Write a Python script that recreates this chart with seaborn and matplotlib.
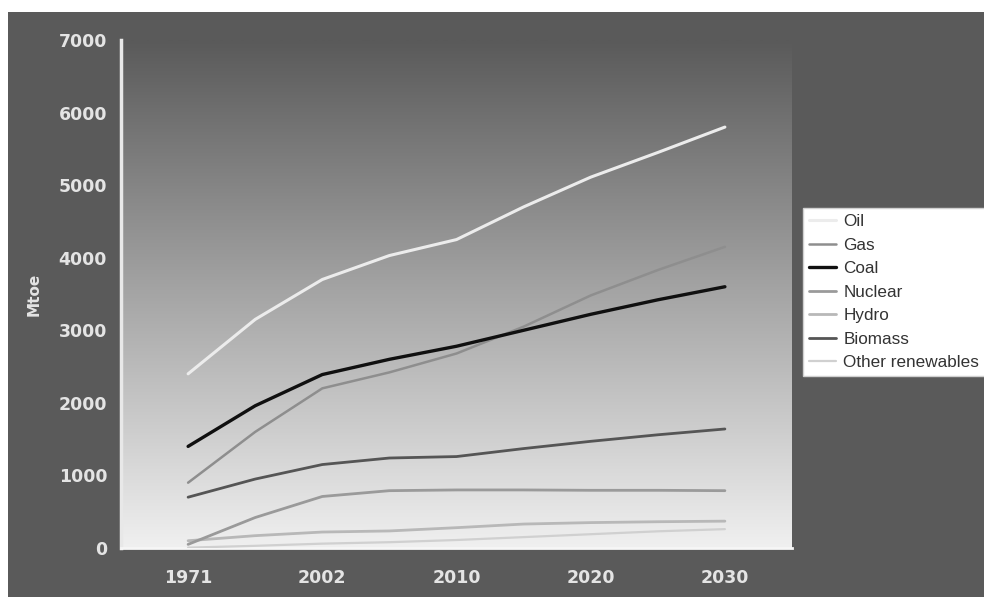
import numpy as np
import pandas as pd
import matplotlib
matplotlib.use("Agg")
import matplotlib.pyplot as plt
from matplotlib.patches import Rectangle
from matplotlib.lines import Line2D
import seaborn as sns

# Category labels on the x axis and the sampling positions along it
year_labels = ["1971", "2002", "2010", "2020", "2030"]
x_pos = [0.0, 0.5, 1.0, 1.5, 2.0, 2.5, 3.0, 3.5, 4.0]

# World primary energy demand by fuel (Mtoe)
oil = [2400, 3150, 3700, 4030, 4250, 4700, 5110, 5450, 5800]
gas = [900, 1600, 2200, 2420, 2680, 3050, 3480, 3830, 4150]
coal = [1400, 1960, 2390, 2600, 2780, 3000, 3220, 3420, 3600]
nuclear = [50, 420, 710, 790, 800, 800, 795, 795, 790]
hydro = [100, 170, 220, 235, 280, 330, 350, 362, 370]
biomass = [700, 950, 1150, 1240, 1260, 1370, 1470, 1560, 1640]
other_renew = [5, 30, 60, 80, 110, 150, 190, 230, 260]

fuels = ["Oil", "Gas", "Coal", "Nuclear", "Hydro", "Biomass", "Other renewables"]
series = [oil, gas, coal, nuclear, hydro, biomass, other_renew]
colors = {
    "Oil": "#ececec",
    "Gas": "#8e8e8e",
    "Coal": "#101010",
    "Nuclear": "#9a9a9a",
    "Hydro": "#b8b8b8",
    "Biomass": "#555555",
    "Other renewables": "#d0d0d0",
}
widths = {
    "Oil": 2.2, "Gas": 1.8, "Coal": 2.4, "Nuclear": 2.0,
    "Hydro": 2.0, "Biomass": 2.0, "Other renewables": 1.6,
}

df = pd.DataFrame(
    [(f, x, v) for f, vals in zip(fuels, series) for x, v in zip(x_pos, vals)],
    columns=["fuel", "pos", "Mtoe"],
)

sns.set_theme(style="white")
plt.rcParams["font.family"] = ["DejaVu Sans"]

W, H = 984, 597
fig = plt.figure(figsize=(W / 100, H / 100), dpi=100, facecolor="white")

# dark frame behind the chart
fig.patches.append(Rectangle((8 / W, 0), 1 - 8 / W, 1 - 12 / H,
                             transform=fig.transFigure, facecolor="#5a5a5a",
                             edgecolor="none", zorder=-10))

left, right = 121, 792
bottom, top = 548, 40
ax = fig.add_axes([left / W, 1 - bottom / H, (right - left) / W, (bottom - top) / H])
ax.set_facecolor("none")
ax.set_zorder(1)

# vertical grey gradient for the plotting area
grad = np.linspace(0, 1, 256).reshape(-1, 1)
cmap = matplotlib.colors.LinearSegmentedColormap.from_list("bg", ["#f0f0f0", "#5a5a5a"])
ax.imshow(grad, extent=[0, 1, 0, 1], transform=ax.transAxes, cmap=cmap,
          aspect="auto", origin="lower", zorder=0)

draw_order = ["Other renewables", "Hydro", "Biomass", "Nuclear", "Gas", "Oil", "Coal"]
for fuel in draw_order:
    sub = df[df["fuel"] == fuel]
    sns.lineplot(data=sub, x="pos", y="Mtoe", color=colors[fuel],
                 linewidth=widths[fuel], ax=ax, legend=False, zorder=3)

ax.set_xlim(-0.5, 4.5)
ax.set_ylim(0, 7000)
ax.set_xticks(range(len(year_labels)))
ax.set_xticklabels(year_labels)
ax.set_yticks(range(0, 7001, 1000))
ax.tick_params(axis="both", length=0, labelsize=12.5, labelcolor="#e4e4e4")
ax.tick_params(axis="y", pad=10)
ax.tick_params(axis="x", pad=15)
for lab in ax.get_xticklabels() + ax.get_yticklabels():
    lab.set_fontweight("bold")
ax.set_xlabel("")
ax.set_ylabel("Mtoe", fontsize=11, fontweight="bold", color="#e4e4e4", labelpad=12)

for s in ["top", "right"]:
    ax.spines[s].set_visible(False)
ax.spines["left"].set_color("#e8e8e8")
ax.spines["left"].set_linewidth(2.5)
ax.spines["bottom"].set_color("#f6f6f6")
ax.spines["bottom"].set_linewidth(2.0)

handles = [Line2D([0], [0], color=colors[f], lw=widths[f]) for f in fuels]
leg = fig.legend(handles, fuels, loc="upper left",
                 bbox_to_anchor=(803 / W, 1 - 208 / H), frameon=True,
                 fancybox=False, framealpha=1, facecolor="white", edgecolor="#d0d0d0",
                 prop={"family": "Liberation Sans", "size": 12.3},
                 labelcolor="#333333", handlelength=1.6, handletextpad=0.4,
                 labelspacing=0.5, borderpad=0.35, borderaxespad=0)
leg.set_zorder(5)

fig.savefig("out.png", dpi=100, facecolor=fig.get_facecolor())
